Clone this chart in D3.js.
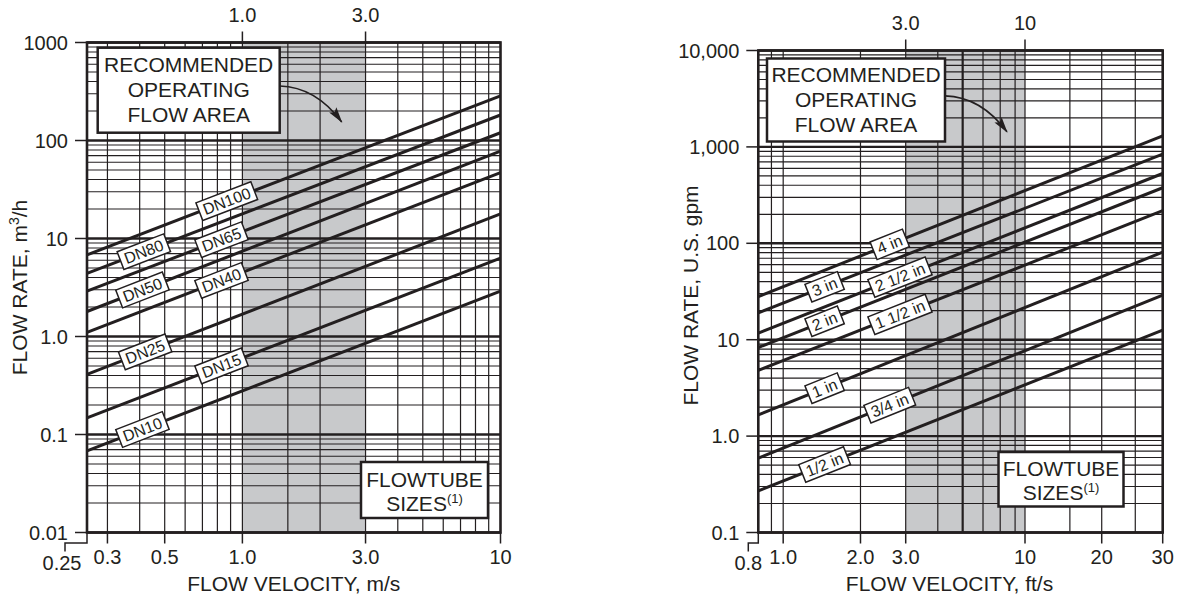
<!DOCTYPE html>
<html>
<head>
<meta charset="utf-8">
<script src="https://cdn.jsdelivr.net/npm/d3@7"></script>
<style>
	body { margin: 0; background: #fff; }
	svg { display: block; font-family: "Liberation Sans", Arial, Helvetica, sans-serif; }
	.band { fill: #c8c9cb; }
	.grid { stroke: #231f20; stroke-width: 1.2; }
	.grid.bold { stroke-width: 2.2; }
	.grid.major { stroke-width: 2.4; }
	.flow { fill: none; stroke: #231f20; stroke-width: 3; }
	.frame { fill: none; stroke: #231f20; stroke-width: 2.6; }
	.tick { fill: none; stroke: #231f20; stroke-width: 1.5; }
	.tick-label { font-size: 20px; fill: #231f20; }
	.title { font-size: 21px; fill: #231f20; }
	.badge rect { fill: #fff; stroke: #231f20; stroke-width: 1.5; }
	.badge text { font-size: 16px; fill: #231f20; }
	.note rect { fill: #fff; stroke: #231f20; stroke-width: 2.5; }
	.note text { font-size: 21px; fill: #231f20; }
	.arrow { fill: none; stroke: #231f20; stroke-width: 1.6; }
</style>
</head>
<body>
<svg id="vis" width="1182" height="603"></svg>
<script>
function whenDocumentLoaded(action) {
	if (document.readyState === "loading") {
		document.addEventListener("DOMContentLoaded", action);
	} else {
		action();
	}
}

// ---- metric chart (left) ----
var DN_SIZES = ["DN100", "DN80", "DN65", "DN50", "DN40", "DN25", "DN15", "DN10"];
var DN_FLOW_LOW = [6.8, 4.4, 2.9, 1.8, 1.1, 0.41, 0.148, 0.068];   // m3/h at 0.25 m/s
var DN_FLOW_HIGH = [285, 182, 120, 78, 47, 17.8, 6.3, 2.9];        // m3/h at 10 m/s
var DN_LABEL_AT = [0.87, 0.415, 0.83, 0.41, 0.83, 0.42, 0.83, 0.41]; // m/s where the tag sits
var MS_KNOTS = [0.25, 10];
var M3H_DOMAIN = [0.01, 1000];
var MS_GRID = [0.3, 0.4, 0.5, 0.6, 0.7, 0.8, 0.9, 1.0, 1.5, 2, 3, 4, 5, 6, 7, 8, 9];
var MS_BOLD_GRID = [];
var MS_TICKS = [0.3, 0.5, 1.0, 3.0, 10];
var MS_TICK_LABELS = ["0.3", "0.5", "1.0", "3.0", "10"];
var MS_TOP_TICKS = [1.0, 3.0];
var MS_TOP_LABELS = ["1.0", "3.0"];
var M3H_TICKS = [0.01, 0.1, 1, 10, 100, 1000];
var M3H_TICK_LABELS = ["0.01", "0.1", "1.0", "10", "100", "1000"];
var MS_BAND = [1.0, 3.0];

// ---- US chart (right) ----
var IN_SIZES = ["4 in", "3 in", "2 1/2 in", "2 in", "1 1/2 in", "1 in", "3/4 in", "1/2 in"];
var IN_FLOW_LOW = [28, 19, 11.7, 8.3, 4.8, 1.66, 0.59, 0.27];      // gpm at 0.8 ft/s
var IN_FLOW_HIGH = [1300, 840, 530, 377, 218, 81, 29, 12.6];       // gpm at 30 ft/s
var IN_LABEL_AT = [2.6, 1.45, 2.85, 1.45, 2.85, 1.45, 2.6, 1.45];  // ft/s where the tag sits
var FTS_KNOTS = [0.8, 8, 10, 20, 30];   // the printed ft/s axis is not one clean log run
var GPM_DOMAIN = [0.1, 10000];
var FTS_GRID = [0.9, 1, 2, 3, 4, 5, 6, 7, 8, 10, 15, 20, 25];
var FTS_BOLD_GRID = [5];
var FTS_TICKS = [1.0, 2.0, 3.0, 10, 20, 30];
var FTS_TICK_LABELS = ["1.0", "2.0", "3.0", "10", "20", "30"];
var FTS_TOP_TICKS = [3.0, 10];
var FTS_TOP_LABELS = ["3.0", "10"];
var GPM_TICKS = [0.1, 1, 10, 100, 1000, 10000];
var GPM_TICK_LABELS = ["0.1", "1.0", "10", "100", "1,000", "10,000"];
var FTS_BAND = [3.0, 10];

var PANELS = [
	{
		plot: {left: 87, top: 42.5, right: 500.5, bottom: 532.5},
		xKnots: MS_KNOTS, xStops: [0, 1], yDomain: M3H_DOMAIN,
		sizes: DN_SIZES, low: DN_FLOW_LOW, high: DN_FLOW_HIGH, labelAt: DN_LABEL_AT,
		grid: MS_GRID, boldGrid: MS_BOLD_GRID, band: MS_BAND,
		xTicks: MS_TICKS, xLabels: MS_TICK_LABELS,
		topTicks: MS_TOP_TICKS, topLabels: MS_TOP_LABELS,
		yTicks: M3H_TICKS, yLabels: M3H_TICK_LABELS,
		edgeLabel: "0.25", edgeFoot: 22, edgeText: 3,
		xTitle: "FLOW VELOCITY, m/s", xTitleShift: 0,
		yTitle: ["FLOW RATE, m", "3", "/h"], yTitleX: 27, yTitleShift: 0,
		note: {dx: 10.7, dy: 5.2, w: 182, h: 85},
		sizesBox: {dx: 12.5, dy: 14.5, w: 127, h: 56}
	},
	{
		plot: {left: 758.3, top: 50.5, right: 1162.7, bottom: 532.5},
		xKnots: FTS_KNOTS, xStops: [0, 0.635, 0.6595, 0.8492, 1], yDomain: GPM_DOMAIN,
		sizes: IN_SIZES, low: IN_FLOW_LOW, high: IN_FLOW_HIGH, labelAt: IN_LABEL_AT,
		grid: FTS_GRID, boldGrid: FTS_BOLD_GRID, band: FTS_BAND,
		xTicks: FTS_TICKS, xLabels: FTS_TICK_LABELS,
		topTicks: FTS_TOP_TICKS, topLabels: FTS_TOP_LABELS,
		yTicks: GPM_TICKS, yLabels: GPM_TICK_LABELS,
		edgeLabel: "0.8", edgeFoot: 10, edgeText: 0,
		xTitle: "FLOW VELOCITY, ft/s", xTitleShift: -11,
		yTitle: ["FLOW RATE, U.S. gpm"], yTitleX: 698, yTitleShift: 4,
		note: {dx: 8.7, dy: 8, w: 178, h: 83},
		sizesBox: {dx: 39.2, dy: 26, w: 125, h: 54.5}
	}
];

whenDocumentLoaded(() => {
	var svg = d3.select("#vis");
	svg.append("rect")
	   .attr("width", 1182)
	   .attr("height", 603)
	   .attr("fill", "#fff");

	// arrow head used by both notes
	svg.append("defs")
	   .append("marker")
	   .attr("id", "arrowhead")
	   .attr("viewBox", "0 0 16 9")
	   .attr("refX", 15)
	   .attr("refY", 4.5)
	   .attr("markerUnits", "userSpaceOnUse")
	   .attr("markerWidth", 16)
	   .attr("markerHeight", 9)
	   .attr("orient", "auto")
	   .append("path")
	   .attr("d", "M0,0 L16,4.5 L0,9 L3,4.5 Z")
	   .attr("fill", "#231f20");

	PANELS.forEach(p => new Chart(svg, p).draw());
});

class Chart {
	constructor(svg, panel) {
		this.p = panel;
		this.box = panel.plot;
		this.g = svg.append("g");
		var b = this.box;
		this.x = d3.scaleLog().domain(panel.xKnots)
		                      .range(panel.xStops.map(f => b.left + f * (b.right - b.left)));
		this.y = d3.scaleLog().domain(panel.yDomain)
		                      .range([b.bottom, b.top]);
		this.xMin = panel.xKnots[0];
		this.xMax = panel.xKnots[panel.xKnots.length - 1];
	}

	draw() {
		this.drawBand();
		this.drawGrid();
		this.drawFlows();
		this.drawBadges();
		this.drawNotes();
		this.drawFrame();
		this.drawAxes();
	}

	drawBand() {
		this.g.append("rect")
		      .attr("class", "band")
		      .attr("x", this.x(this.p.band[0]))
		      .attr("y", this.box.top)
		      .attr("width", this.x(this.p.band[1]) - this.x(this.p.band[0]))
		      .attr("height", this.box.bottom - this.box.top);
	}

	drawGrid() {
		var b = this.box;
		var majors = this.p.yTicks.map(v => Math.round(Math.log10(v)));

		// horizontal: every 1..9 inside each decade
		this.g.selectAll(".hgrid")
		      .data(this.y.ticks())
		      .enter()
		      .append("line")
		      .attr("class", d => majors.indexOf(Math.round(Math.log10(d) * 1000) / 1000) >= 0 ? "grid major" : "grid")
		      .attr("x1", b.left)
		      .attr("x2", b.right)
		      .attr("y1", d => this.y(d))
		      .attr("y2", d => this.y(d));

		// vertical
		this.g.selectAll(".vgrid")
		      .data(this.p.grid)
		      .enter()
		      .append("line")
		      .attr("class", d => this.p.boldGrid.indexOf(d) >= 0 ? "grid bold" : "grid")
		      .attr("x1", d => this.x(d))
		      .attr("x2", d => this.x(d))
		      .attr("y1", b.top)
		      .attr("y2", b.bottom);
	}

	drawFlows() {
		var line = d3.line()
		             .x(d => this.x(d[0]))
		             .y(d => this.y(d[1]));
		this.g.selectAll(".flow")
		      .data(this.p.sizes.map((s, i) => [[this.xMin, this.p.low[i]], [this.xMax, this.p.high[i]]]))
		      .enter()
		      .append("path")
		      .attr("class", "flow")
		      .attr("d", line);
	}

	drawBadges() {
		var p = this.p;
		var x0 = this.x(this.xMin), x1 = this.x(this.xMax);
		// tags sit on the drawn (straight) line, so place them in screen space
		var tags = p.sizes.map((s, i) => {
			var y0 = this.y(p.low[i]), y1 = this.y(p.high[i]);
			var px = this.x(p.labelAt[i]);
			var t = (px - x0) / (x1 - x0);
			return {name: s, px: px, py: y0 + t * (y1 - y0), angle: Math.atan2(y1 - y0, x1 - x0) * 180 / Math.PI};
		});

		var badge = this.g.selectAll(".badge")
		                  .data(tags)
		                  .enter()
		                  .append("g")
		                  .attr("class", "badge")
		                  .attr("transform", d => "translate(" + d.px + "," + d.py + ") rotate(" + d.angle + ")");

		badge.each(function(d) {
			var g = d3.select(this);
			var text = g.append("text")
			            .attr("text-anchor", "middle")
			            .attr("y", 5.6)
			            .text(d.name);
			var w = text.node().getComputedTextLength() + 9;
			g.insert("rect", "text")
			 .attr("x", -w / 2)
			 .attr("y", -9.5)
			 .attr("width", w)
			 .attr("height", 19);
		});
	}

	drawNotes() {
		var b = this.box, n = this.p.note, s = this.p.sizesBox;

		// recommended operating area
		var nx = b.left + n.dx, ny = b.top + n.dy;
		var note = this.g.append("g").attr("class", "note");
		note.append("rect")
		    .attr("x", nx)
		    .attr("y", ny)
		    .attr("width", n.w)
		    .attr("height", n.h);
		note.selectAll("text")
		    .data(["RECOMMENDED", "OPERATING", "FLOW AREA"])
		    .enter()
		    .append("text")
		    .attr("text-anchor", "middle")
		    .attr("x", nx + n.w / 2)
		    .attr("y", (d, i) => ny + n.h / 2 - 18 + i * 25)
		    .text(d => d);

		var sx = nx + n.w, sy = ny + n.h * 0.45;
		this.g.append("path")
		      .attr("class", "arrow")
		      .attr("marker-end", "url(#arrowhead)")
		      .attr("d", "M" + sx + "," + sy + " Q" + (sx + 36) + "," + (sy + 1) + " " + (sx + 62) + "," + (sy + 36));

		// flowtube sizes
		var fx = b.right - s.dx - s.w, fy = b.bottom - s.dy - s.h;
		var sizes = this.g.append("g").attr("class", "note");
		sizes.append("rect")
		     .attr("x", fx)
		     .attr("y", fy)
		     .attr("width", s.w)
		     .attr("height", s.h);
		sizes.append("text")
		     .attr("text-anchor", "middle")
		     .attr("x", fx + s.w / 2)
		     .attr("y", fy + s.h / 2 - 3)
		     .text("FLOWTUBE");
		var t2 = sizes.append("text")
		              .attr("text-anchor", "middle")
		              .attr("x", fx + s.w / 2)
		              .attr("y", fy + s.h / 2 + 21);
		t2.append("tspan").text("SIZES");
		t2.append("tspan")
		  .attr("font-size", 13)
		  .attr("dy", -8)
		  .text("(1)");
	}

	drawFrame() {
		var b = this.box;
		this.g.append("rect")
		      .attr("class", "frame")
		      .attr("x", b.left)
		      .attr("y", b.top)
		      .attr("width", b.right - b.left)
		      .attr("height", b.bottom - b.top);
	}

	drawAxes() {
		var b = this.box, p = this.p;

		// y-axis ticks
		this.g.selectAll(".ytick")
		      .data(p.yTicks)
		      .enter()
		      .append("line")
		      .attr("class", "tick")
		      .attr("x1", b.left - 12)
		      .attr("x2", b.left)
		      .attr("y1", d => this.y(d))
		      .attr("y2", d => this.y(d));
		this.g.selectAll(".ylabel")
		      .data(p.yTicks)
		      .enter()
		      .append("text")
		      .attr("class", "tick-label")
		      .attr("text-anchor", "end")
		      .attr("x", b.left - 19)
		      .attr("y", d => this.y(d) + 7)
		      .text((d, i) => p.yLabels[i]);

		// x-axis ticks (bottom)
		this.g.selectAll(".xtick")
		      .data(p.xTicks)
		      .enter()
		      .append("line")
		      .attr("class", "tick")
		      .attr("x1", d => this.x(d))
		      .attr("x2", d => this.x(d))
		      .attr("y1", b.bottom)
		      .attr("y2", b.bottom + 11);
		this.g.selectAll(".xlabel")
		      .data(p.xTicks)
		      .enter()
		      .append("text")
		      .attr("class", "tick-label")
		      .attr("text-anchor", "middle")
		      .attr("x", d => this.x(d))
		      .attr("y", b.bottom + 31)
		      .text((d, i) => p.xLabels[i]);

		// domain start value, hooked off the corner
		var x0 = this.x(this.xMin), foot = x0 - p.edgeFoot;
		this.g.append("path")
		      .attr("class", "tick")
		      .attr("d", "M" + x0 + "," + b.bottom + " V" + (b.bottom + 10.5) + " H" + foot + " V" + (b.bottom + 19));
		this.g.append("text")
		      .attr("class", "tick-label")
		      .attr("text-anchor", "middle")
		      .attr("x", foot - p.edgeText)
		      .attr("y", b.bottom + 37.5)
		      .text(p.edgeLabel);

		// top ticks at the band edges
		this.g.selectAll(".ttick")
		      .data(p.topTicks)
		      .enter()
		      .append("line")
		      .attr("class", "tick")
		      .attr("x1", d => this.x(d))
		      .attr("x2", d => this.x(d))
		      .attr("y1", b.top)
		      .attr("y2", b.top - 11);
		this.g.selectAll(".tlabel")
		      .data(p.topTicks)
		      .enter()
		      .append("text")
		      .attr("class", "tick-label")
		      .attr("text-anchor", "middle")
		      .attr("x", d => this.x(d))
		      .attr("y", b.top - 20.5)
		      .text((d, i) => p.topLabels[i]);

		// x-label
		this.g.append("text")
		      .attr("class", "title")
		      .attr("text-anchor", "middle")
		      .attr("x", (b.left + b.right) / 2 + p.xTitleShift)
		      .attr("y", b.bottom + 58)
		      .text(p.xTitle);

		// y-label
		var yl = this.g.append("text")
		               .attr("class", "title")
		               .attr("text-anchor", "middle")
		               .attr("transform", "translate(" + p.yTitleX + "," + ((b.top + b.bottom) / 2 + p.yTitleShift) + ") rotate(270)");
		yl.append("tspan").text(p.yTitle[0]);
		if (p.yTitle.length > 1) {
			yl.append("tspan")
			  .attr("font-size", 14)
			  .attr("dy", -8)
			  .text(p.yTitle[1]);
			yl.append("tspan")
			  .attr("dy", 8)
			  .text(p.yTitle[2]);
		}
	}
}
</script>
</body>
</html>
